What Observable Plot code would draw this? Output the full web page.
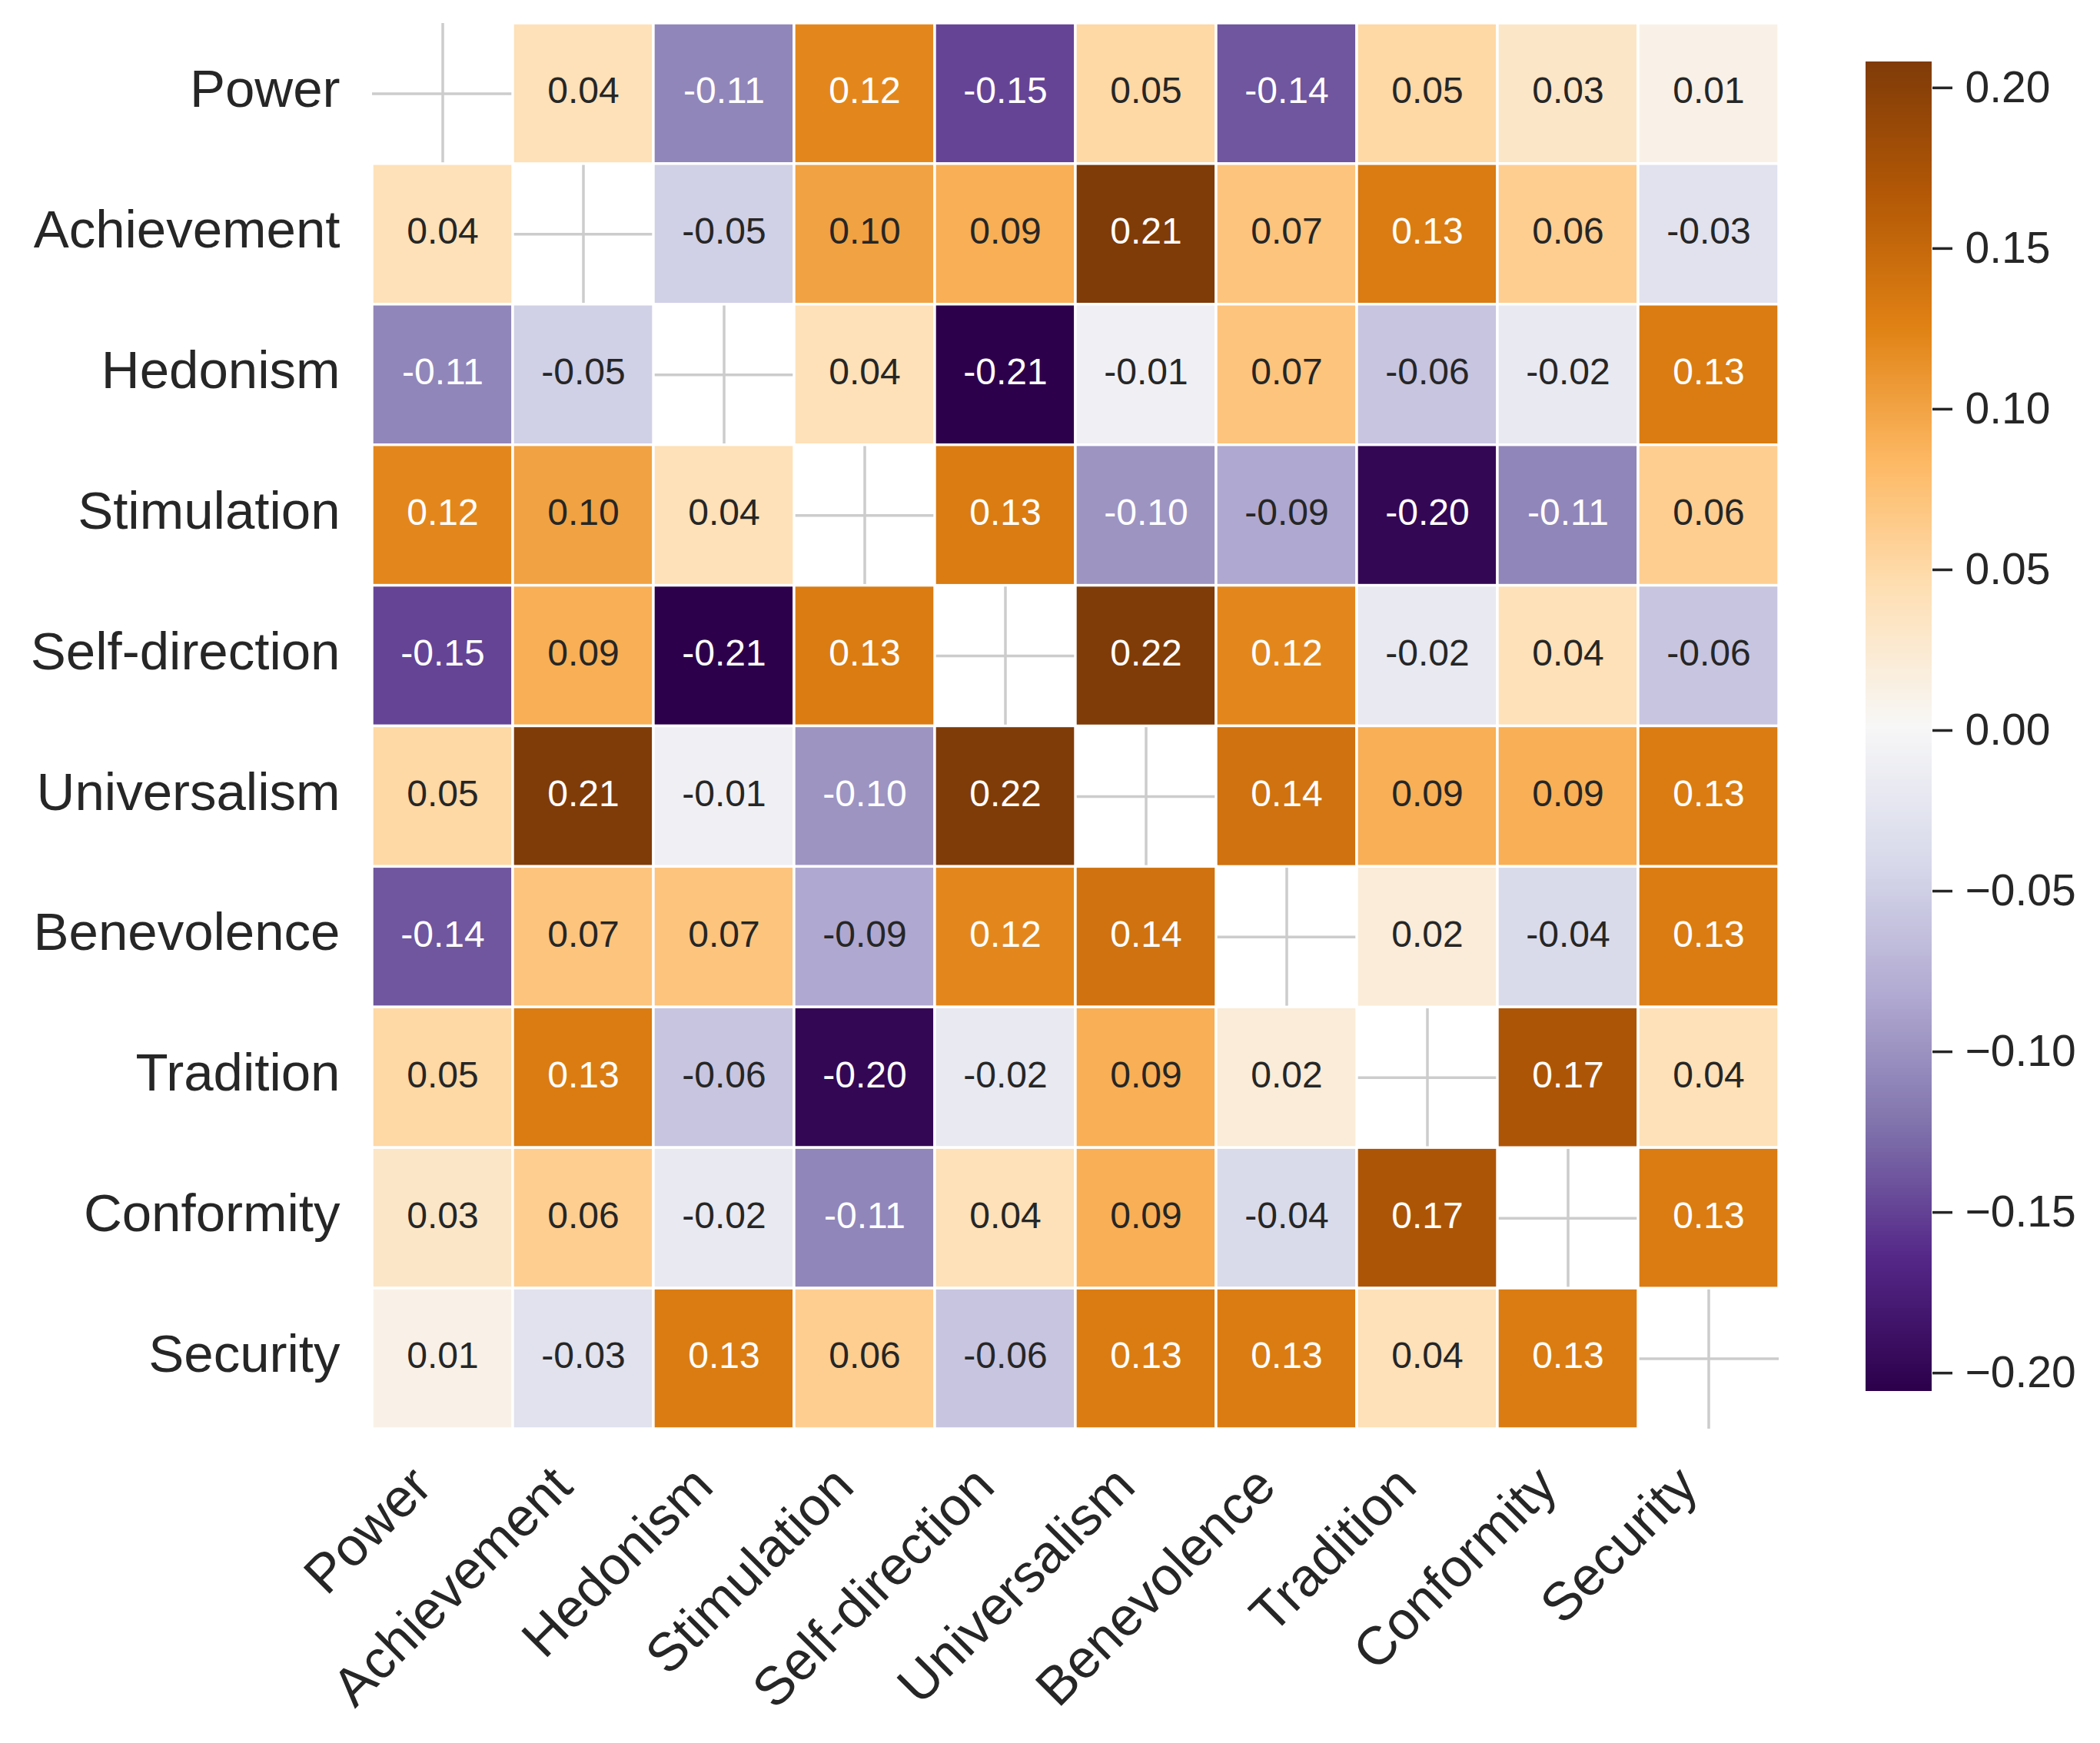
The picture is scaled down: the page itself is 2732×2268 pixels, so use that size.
<!DOCTYPE html>
<html><head><meta charset="utf-8">
<script src="https://cdn.jsdelivr.net/npm/d3@7"></script>
<script src="https://cdn.jsdelivr.net/npm/@observablehq/plot@0.6"></script>
<style>
html,body{margin:0;padding:0;background:#fff;}
#wrap{position:relative;width:2732px;height:2268px;overflow:hidden;background:#fff;}
#heat{position:absolute;left:0;top:0;}
#cbar{position:absolute;left:2427px;top:0;}
</style></head><body>
<div id="wrap"><div id="heat"></div><div id="cbar"></div></div>
<script>
// ---- data ----
const categories = ["Power","Achievement","Hedonism","Stimulation","Self-direction","Universalism","Benevolence","Tradition","Conformity","Security"];
const powerRow        = [null, 0.04, -0.11, 0.12, -0.15, 0.05, -0.14, 0.05, 0.03, 0.01];
const achievementRow  = [0.04, null, -0.05, 0.10, 0.09, 0.21, 0.07, 0.13, 0.06, -0.03];
const hedonismRow     = [-0.11, -0.05, null, 0.04, -0.21, -0.01, 0.07, -0.06, -0.02, 0.13];
const stimulationRow  = [0.12, 0.10, 0.04, null, 0.13, -0.10, -0.085, -0.20, -0.11, 0.06];
const selfDirectionRow= [-0.15, 0.09, -0.21, 0.13, null, 0.22, 0.12, -0.02, 0.04, -0.06];
const universalismRow = [0.05, 0.21, -0.01, -0.10, 0.22, null, 0.14, 0.09, 0.09, 0.13];
const benevolenceRow  = [-0.14, 0.07, 0.07, -0.085, 0.12, 0.14, null, 0.02, -0.04, 0.13];
const traditionRow    = [0.05, 0.13, -0.06, -0.20, -0.02, 0.09, 0.02, null, 0.17, 0.04];
const conformityRow   = [0.03, 0.06, -0.02, -0.11, 0.04, 0.09, -0.04, 0.17, null, 0.13];
const securityRow     = [0.01, -0.03, 0.13, 0.06, -0.06, 0.13, 0.13, 0.04, 0.13, null];
const colorbarTicks = [-0.20, -0.15, -0.10, -0.05, 0.00, 0.05, 0.10, 0.15, 0.20];
const vmax = 0.2069;
// PuOr reversed (purple -> white -> brown)
const paletteColors = ["#2d004b","#542788","#8073ac","#b2abd2","#d8daeb","#f7f7f7","#fee0b6","#fdb863","#e08214","#b35806","#7f3b08"];

const rows = [powerRow, achievementRow, hedonismRow, stimulationRow, selfDirectionRow,
              universalismRow, benevolenceRow, traditionRow, conformityRow, securityRow];
const cells = [];
rows.forEach((r, i) => r.forEach((v, j) => {
  if (v !== null) cells.push({row: categories[i], col: categories[j], value: v});
}));

const FONT = "'Liberation Sans', Arial, Helvetica, sans-serif";
const INK = "#262626";
const colorOptions = {
  type: "linear",
  domain: [-vmax, vmax],
  interpolate: d3.piecewise(d3.interpolateRgb, paletteColors),
  clamp: true
};
const colorScale = Plot.scale({color: colorOptions});
function luminance(c) {
  const rgb = d3.rgb(c);
  const lin = x => { x /= 255; return x <= 0.03928 ? x / 12.92 : Math.pow((x + 0.055) / 1.055, 2.4); };
  return 0.2126 * lin(rgb.r) + 0.7152 * lin(rgb.g) + 0.0722 * lin(rgb.b);
}
const darkText = cells.filter(d => luminance(colorScale.apply(d.value)) > 0.408);
const lightText = cells.filter(d => luminance(colorScale.apply(d.value)) <= 0.408);
const fmt = d => d.value.toFixed(2);

const heat = Plot.plot({
  width: 2400, height: 2268,
  marginLeft: 484, marginRight: 86, marginTop: 30, marginBottom: 409,
  style: {fontFamily: FONT, background: "white", color: INK, overflow: "visible"},
  x: {type: "band", domain: categories, padding: 0, round: false},
  y: {type: "band", domain: categories, padding: 0, round: false},
  color: colorOptions,
  marks: [
    Plot.gridX({stroke: "#cccccc", strokeOpacity: 1, strokeWidth: 3.5}),
    Plot.gridY({stroke: "#cccccc", strokeOpacity: 1, strokeWidth: 3.5}),
    Plot.cell(cells, {x: "col", y: "row", fill: "value", stroke: "white", strokeWidth: 3.4}),
    Plot.text(darkText, {x: "col", y: "row", text: fmt, fill: INK, fontSize: 48, dy: -3}),
    Plot.text(lightText, {x: "col", y: "row", text: fmt, fill: "white", fontSize: 48, dy: -3}),
    Plot.axisY({tickSize: 0, tickPadding: 42, fontSize: 69, label: null, dy: -5, fill: INK}),
    Plot.axisX({anchor: "bottom", tickSize: 0, tickPadding: 78, tickRotate: -45,
                textAnchor: "end", lineAnchor: "bottom", dx: -11, fontSize: 70, label: null, fill: INK})
  ]
});
document.getElementById("heat").appendChild(heat);

// colorbar
const N = 400;
const steps = d3.range(N).map(i => ({
  lo: -vmax + i * 2 * vmax / N,
  hi: -vmax + (i + 1.5) * 2 * vmax / N,
  mid: -vmax + (i + 0.5) * 2 * vmax / N
}));
steps[N - 1].hi = vmax;
const cbar = Plot.plot({
  width: 305, height: 2268,
  marginLeft: 0, marginRight: 219, marginTop: 80, marginBottom: 458,
  style: {fontFamily: FONT, background: "transparent", color: INK, overflow: "visible"},
  x: {domain: [0, 1], axis: null},
  y: {domain: [-vmax, vmax]},
  color: colorOptions,
  marks: [
    Plot.rect(steps, {x1: () => 0, x2: () => 1, y1: "lo", y2: "hi", fill: "mid", shapeRendering: "crispEdges"}),
    Plot.axisY({anchor: "right", ticks: colorbarTicks, tickFormat: d3.format(".2f"),
                tickSize: 26, tickPadding: 17, fontSize: 57, strokeWidth: 3.5,
                stroke: INK, fill: INK, dy: 5, label: null})
  ]
});
document.getElementById("cbar").appendChild(cbar);
</script>
</body></html>
